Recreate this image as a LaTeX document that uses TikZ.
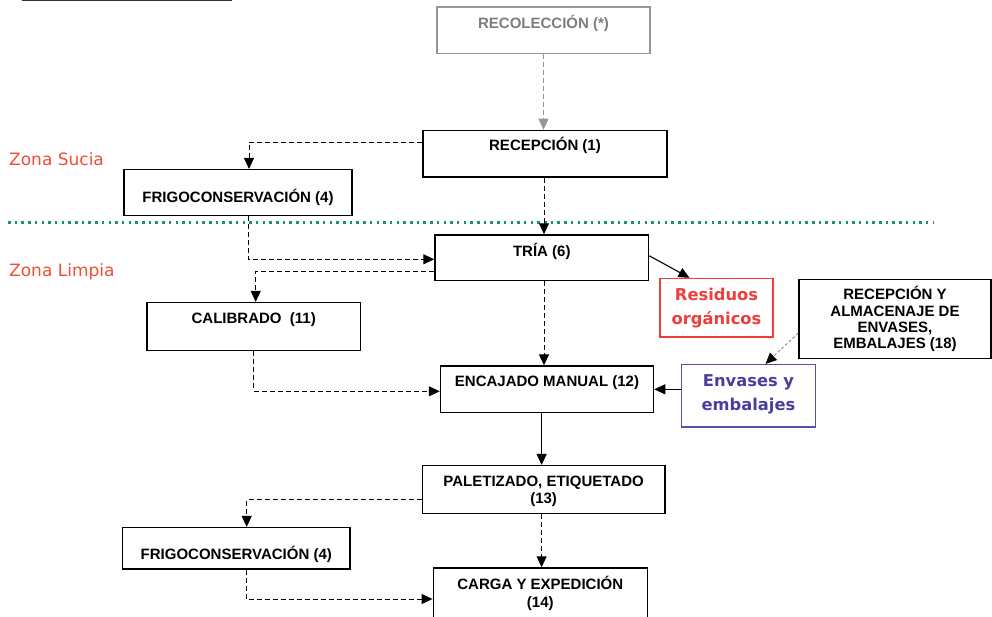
\documentclass[tikz,border=0pt]{standalone}
\usepackage{fontspec}
\setmainfont{Liberation Sans}
\newfontfamily\zonefont{DejaVu Sans}
\usetikzlibrary{arrows.meta,calc}
\definecolor{zonared}{RGB}{240,78,52}
\definecolor{resred}{RGB}{238,62,58}
\definecolor{envblue}{RGB}{82,82,172}
\definecolor{envtext}{RGB}{72,62,158}
\definecolor{dotgreen}{RGB}{24,150,92}
\definecolor{recgray}{RGB}{150,150,150}
\definecolor{rectext}{RGB}{125,125,125}

\begin{document}
\begin{tikzpicture}[x=1pt,y=-1pt,
  box/.style={draw, line width=1.5pt, inner sep=0pt},
  txt/.style={anchor=base, inner sep=0pt, align=center, font=\bfseries\fontsize{15}{17.5}\selectfont},
  tag/.style={anchor=base, inner sep=0pt, align=center, font=\zonefont\bfseries\fontsize{16.3}{23.5}\selectfont},
  zone/.style={anchor=base west, inner sep=0pt, text=zonared, font=\zonefont\fontsize{17}{20}\selectfont},
  flow/.style={line width=1pt, dash pattern=on 5pt off 3pt, -{Triangle[length=11pt,width=10pt]}},
  feed/.style={line width=1.1pt, -{Triangle[length=11pt,width=10pt]}}]
  \clip (0,0) rectangle (992,616);
  \draw[line width=1.4pt, black!80] (22,0.5) -- (232,0.5);
  \draw[dotgreen, line width=3pt, dash pattern=on 2.5pt off 4.2pt] (8,222) -- (933,222);
  \node[zone] (sucia) at (9,165.7) {Zona Sucia};
  \node[zone] (limpia) at (9,276.7) {Zona Limpia};

  \node[box, draw=recgray, line width=1.2pt, minimum width=213, minimum height=46.3] (recol) at (543.5,30.2) {};
  \foreach \n/\x/\y/\w/\h in {recep/545/153.6/244/46.4, frigoA/238/192.5/228/45.6,
      tria/541.8/257.8/213.5/45.5, calib/253.7/326.6/213.5/48, encaj/547/389.3/213/46.4,
      palet/543.6/489.5/242.7/47.6, frigoB/236.3/548.3/227.3/41.3, carga/540.3/594/214/52,
      recalm/895/319/192/78.6}
    \node[box, minimum width=\w, minimum height=\h] (\n) at (\x,\y) {};
  \node[box, draw=resred, minimum width=113, minimum height=58.5] (resid) at (716.5,307.8) {};
  \node[box, draw=envblue, minimum width=134, minimum height=62.4] (envas) at (748.5,395.8) {};

  \node[txt, text=rectext] (recol-t) at (543.5,28.2) {RECOLECCIÓN (*)};
  \node[txt] (recep-t) at (545,150.2) {RECEPCIÓN (1)};
  \node[txt] (frigoA-t) at (238,202.2) {FRIGOCONSERVACIÓN (4)};
  \node[txt] (tria-t) at (541.8,256.2) {TRÍA (6)};
  \node[txt] (calib-t) at (253.7,323.9) {CALIBRADO\ \ (11)};
  \node[txt] (encaj-t) at (547,386.2) {ENCAJADO MANUAL (12)};
  \node[txt] (palet-t) at (543.6,503.7) {PALETIZADO, ETIQUETADO\\(13)};
  \node[txt] (frigoB-t) at (236.3,559) {FRIGOCONSERVACIÓN (4)};
  \node[txt] (carga-t) at (540.3,607.2) {CARGA Y EXPEDICIÓN\\(14)};
  \node[txt, font=\bfseries\fontsize{15}{16.3}\selectfont] (recalm-t) at (895,348.6)
    {RECEPCIÓN Y\\ALMACENAJE DE\\ENVASES,\\EMBALAJES (18)};
  \node[tag, text=resred] (resid-t) at (716.5,324.3) {Residuos\\orgánicos};
  \node[tag, text=envtext] (envas-t) at (748.5,410) {Envases y\\embalajes};

  \draw[flow, recgray, line width=0.9pt] (recol.south) -- (recol.south |- recep.north);
  \draw[flow] ([yshift=11pt]recep.west) -| ([xshift=11pt]frigoA.north);
  \draw[flow] ([xshift=-1pt]recep.south) -- ([xshift=-1pt]recep.south |- tria.north);
  \draw[flow] ([xshift=10.6pt]frigoA.south) |- ([yshift=-1.5pt]tria.west);
  \draw[flow] ([yshift=-14pt]tria.west) -| ([xshift=2pt]calib.north);
  \draw[feed] ([yshift=2pt]tria.east) -- ([xshift=-27pt]resid.north);
  \draw[flow] ([xshift=2.2pt]tria.south) -- ([xshift=2.2pt]tria.south |- encaj.north);
  \draw[flow] (calib.south) |- ([yshift=-2pt]encaj.west);
  \draw[feed] (envas.west |- encaj.east) -- (encaj.east);
  \draw[gray, line width=0.8pt, densely dashed, -{Triangle[length=11pt,width=10pt,black]}]
    ([yshift=-14pt]recalm.west) -- ([xshift=17pt]envas.north);
  \draw[feed] ([xshift=-5.4pt]encaj.south) -- ([xshift=-5.4pt]encaj.south |- palet.north);
  \draw[flow] ([yshift=-10.2pt]palet.west) -| ([xshift=10.4pt]frigoB.north);
  \draw[flow] ([xshift=-2pt]palet.south) -- ([xshift=-2pt]palet.south |- carga.north);
  \draw[flow] ([xshift=9.7pt]frigoB.south) |- ([yshift=-5pt]carga.west);
\end{tikzpicture}
\end{document}
